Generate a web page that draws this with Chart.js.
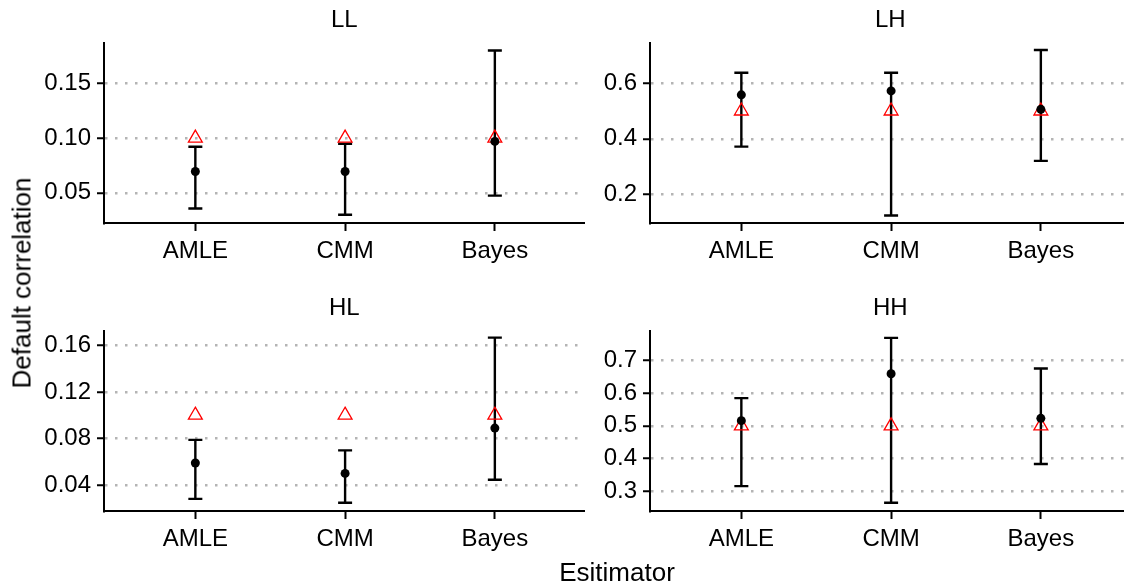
<!DOCTYPE html>
<html>
<head>
<meta charset="utf-8">
<title>Default correlation by estimator</title>
<script src="https://cdn.jsdelivr.net/npm/chart.js@4/dist/chart.umd.min.js"></script>
<style>
  html, body { margin: 0; padding: 0; background: #fff; }
  body { position: relative; width: 1124px; height: 583px; overflow: hidden; font-family: "Liberation Sans", Arial, sans-serif; }
  canvas { position: absolute; }
  .axis-title { position: absolute; font-size: 26px; color: #000; white-space: nowrap; }
  #ytitle { left: 22px; top: 283px; transform: translate(-50%, -50%) rotate(-90deg); }
  #xtitle { left: 617px; top: 572px; transform: translate(-50%, -50%); }
</style>
</head>
<body>
<canvas id="cLL" width="594" height="295" style="left:0;top:0"></canvas>
<canvas id="cLH" width="594" height="295" style="left:546px;top:0"></canvas>
<canvas id="cHL" width="594" height="295" style="left:0;top:288px"></canvas>
<canvas id="cHH" width="594" height="295" style="left:546px;top:288px"></canvas>
<div class="axis-title" id="ytitle">Default correlation</div>
<div class="axis-title" id="xtitle">Esitimator</div>

<script>
// estimadores en el eje x
var categorias = ['AMLE', 'CMM', 'Bayes'];

// LL
var llEst = [0.0695, 0.0695, 0.097];
var llLo = [0.0357, 0.030, 0.0475];
var llHi = [0.0921, 0.0948, 0.180];
var llTrue = [0.10, 0.10, 0.10];
var llTicks = [0.05, 0.10, 0.15];

// LH
var lhEst = [0.558, 0.572, 0.506];
var lhLo = [0.372, 0.125, 0.321];
var lhHi = [0.637, 0.637, 0.719];
var lhTrue = [0.5, 0.5, 0.5];
var lhTicks = [0.2, 0.4, 0.6];

// HL
var hlEst = [0.0589, 0.050, 0.0889];
var hlLo = [0.0281, 0.0248, 0.0446];
var hlHi = [0.0788, 0.0698, 0.1666];
var hlTrue = [0.10, 0.10, 0.10];
var hlTicks = [0.04, 0.08, 0.12, 0.16];

// HH
var hhEst = [0.516, 0.660, 0.523];
var hhLo = [0.315, 0.264, 0.383];
var hhHi = [0.585, 0.770, 0.676];
var hhTrue = [0.5, 0.5, 0.5];
var hhTicks = [0.3, 0.4, 0.5, 0.6, 0.7];

var fuente = { family: '"Liberation Sans", Arial, sans-serif', size: 24 };

// barras de error dibujadas con las escalas del grafico
var errorBars = {
    id: 'errorBars',
    beforeDatasetsDraw: function (chart, args, opts) {
        var ctx = chart.ctx;
        var x = chart.scales.x;
        var y = chart.scales.y;
        ctx.save();
        ctx.strokeStyle = '#000';
        ctx.lineWidth = 2.4;
        for (var i = 0; i < opts.lo.length; i++) {
            var px = x.getPixelForValue(i);
            var top = y.getPixelForValue(opts.hi[i]);
            var bot = y.getPixelForValue(opts.lo[i]);
            ctx.beginPath();
            ctx.moveTo(px, top); ctx.lineTo(px, bot);
            ctx.moveTo(px - 7, top); ctx.lineTo(px + 7, top);
            ctx.moveTo(px - 7, bot); ctx.lineTo(px + 7, bot);
            ctx.stroke();
        }
        ctx.restore();
    }
};

function puntos(valores) {
    return valores.map(function (v, i) { return { x: i, y: v }; });
}

function GenerarPanel(id, titulo, est, lo, hi, real, ticks, yMin, yMax, decimales) {
    var ctx = document.getElementById(id).getContext('2d');
    return new Chart(ctx, {
        type: 'scatter',
        data: {
            datasets: [
                {
                    data: puntos(est),
                    pointStyle: 'circle',
                    pointRadius: 4.5,
                    backgroundColor: '#000',
                    borderColor: '#000',
                    borderWidth: 0,
                    order: 1
                },
                {
                    data: puntos(real),
                    pointStyle: 'triangle',
                    pointRadius: 8,
                    backgroundColor: 'rgba(0,0,0,0)',
                    borderColor: '#ff0000',
                    borderWidth: 1.3,
                    order: 2
                }
            ]
        },
        plugins: [errorBars],
        options: {
            responsive: false,
            animation: false,
            events: [],
            layout: { padding: 0 },
            plugins: {
                legend: { display: false },
                tooltip: { enabled: false },
                title: {
                    display: true,
                    text: titulo,
                    fullSize: false,
                    color: '#000',
                    font: { family: fuente.family, size: 24, weight: 'normal' },
                    padding: { top: 6.1, bottom: 8.1 }
                },
                errorBars: { lo: lo, hi: hi }
            },
            scales: {
                x: {
                    type: 'linear',
                    min: -0.61,
                    max: 2.6,
                    afterBuildTicks: function (scale) {
                        scale.ticks = [0, 1, 2].map(function (v) { return { value: v }; });
                    },
                    afterFit: function (scale) { scale.height = 72; },
                    ticks: {
                        color: '#000',
                        font: fuente,
                        padding: 6,
                        maxRotation: 0,
                        callback: function (v) { return categorias[v]; }
                    },
                    grid: {
                        drawOnChartArea: false,
                        tickLength: 8,
                        tickColor: '#000',
                        tickWidth: 2
                    },
                    border: { display: true, color: '#000', width: 2 }
                },
                y: {
                    min: yMin,
                    max: yMax,
                    afterBuildTicks: function (scale) {
                        scale.ticks = ticks.map(function (v) { return { value: v }; });
                    },
                    afterFit: function (scale) { scale.width = 104; },
                    ticks: {
                        color: '#000',
                        font: fuente,
                        padding: 6,
                        callback: function (v) { return Number(v).toFixed(decimales); }
                    },
                    grid: {
                        color: '#b4b4b4',
                        lineWidth: 2.5,
                        tickLength: 7,
                        tickColor: '#000',
                        tickWidth: 2,
                        tickBorderDash: []
                    },
                    // en v4 el patron punteado de la grilla va en border.dash
                    border: { display: true, color: '#000', width: 2, dash: [2.5, 7.5] }
                }
            }
        }
    });
}

GenerarPanel('cLL', 'LL', llEst, llLo, llHi, llTrue, llTicks, 0.0225, 0.1868, 2);
GenerarPanel('cLH', 'LH', lhEst, lhLo, lhHi, lhTrue, lhTicks, 0.098, 0.744, 1);
GenerarPanel('cHL', 'HL', hlEst, hlLo, hlHi, hlTrue, hlTicks, 0.0177, 0.1723, 2);
GenerarPanel('cHH', 'HH', hhEst, hhLo, hhHi, hhTrue, hhTicks, 0.2387, 0.791, 1);
</script>
</body>
</html>
